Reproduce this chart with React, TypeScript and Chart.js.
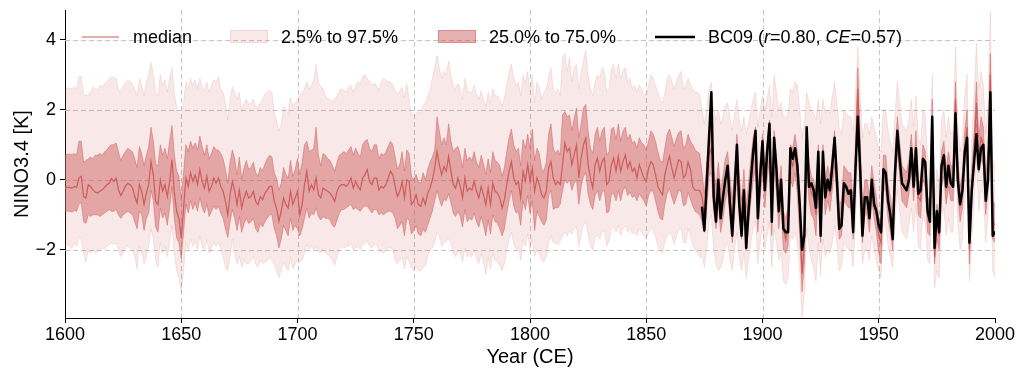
import React, { useEffect, useRef } from "react";
import { Chart, registerables } from "chart.js";

Chart.register(...registerables);

// ---------------- data ----------------
const START_YEAR = 1600;
const END_YEAR = 2000;
const BC09_START = 1874;
const X_MIN = 1600;
const X_MAX = 2000;
const X_STEP = 50;
const Y_MIN = -3.95;
const Y_MAX = 4.85;
const Y_TICKS = [-2, 0, 2, 4];

const MEDIAN = [
  -0.22,-0.22,-0.22,-0.24,-0.19,-0.22,0.05,0.10,-0.48,-0.52,
  -0.14,-0.19,-0.29,-0.35,-0.38,-0.33,-0.29,-0.22,-0.14,-0.10,
  0.03,-0.05,0.05,-0.29,-0.45,-0.33,-0.19,-0.10,-0.14,-0.22,
  -0.48,-0.67,-0.14,-0.33,-0.71,-0.38,-0.14,0.52,0.14,-0.62,
  -0.71,0.00,-0.33,-0.14,-0.48,-0.05,0.57,-0.33,-0.90,-1.10,
  -1.67,-0.81,0.05,-0.19,0.19,-0.05,0.14,-0.14,0.29,-0.05,
  -0.24,0.10,-0.33,-0.19,0.05,-0.10,0.05,-0.19,-0.33,-0.62,
  -1.00,-0.43,-0.05,-0.33,-0.71,-0.29,-0.81,-0.52,-0.33,-0.52,
  -0.48,-0.33,-0.62,-0.71,-0.48,-0.57,-0.38,-0.29,-0.19,-0.19,
  -0.62,-0.81,-1.19,-0.90,-0.52,-0.71,-0.81,-0.33,-0.71,-0.52,
  -0.33,-1.00,-0.71,-0.14,0.24,-0.33,-0.14,-0.29,0.05,-0.43,
  -0.52,-0.24,-0.29,-0.33,-0.38,-0.48,-0.62,-0.33,-0.19,-0.14,
  -0.14,-0.19,-0.10,0.05,-0.24,-0.05,-0.19,-0.29,0.05,0.14,
  0.29,-0.05,-0.14,0.05,0.05,-0.29,-0.19,-0.24,-0.14,0.05,
  0.24,0.14,-0.19,-0.48,-0.33,-0.05,-0.52,0.00,-0.05,-0.71,
  -0.62,-0.43,-0.71,-0.76,-0.52,-0.71,-0.38,-0.24,0.00,0.33,
  0.81,0.43,0.14,0.38,0.24,0.67,0.24,-0.14,-0.24,0.05,
  -0.19,-0.52,0.05,-0.33,-0.24,-0.29,-0.05,-0.33,-0.52,-0.19,
  -0.43,-0.71,-0.24,-0.71,-0.10,-0.33,-0.38,-0.52,-0.81,-0.57,
  -0.14,0.24,0.52,0.05,-0.14,-0.05,-0.52,0.24,-0.05,0.43,
  -0.05,0.33,-0.33,0.05,-0.14,-0.43,-0.52,-0.33,0.33,0.52,
  0.05,-0.14,-0.05,-0.14,0.43,1.05,0.81,0.90,0.43,0.71,
  1.00,0.05,0.62,1.00,1.19,0.43,0.05,-0.24,0.43,0.62,
  0.24,0.52,0.62,-0.14,-0.05,0.43,0.62,0.24,0.67,0.24,
  0.52,0.71,0.33,0.52,0.24,0.33,0.05,0.43,0.24,0.05,
  -0.05,0.33,0.52,0.43,0.14,-0.19,-0.33,-0.43,0.14,0.43,
  0.67,0.33,0.05,0.33,0.57,0.52,0.05,0.14,0.50,0.30,
  -0.20,-0.30,-0.30,-0.30,-0.50,-1.00,-0.20,0.70,0.90,-0.30,
  -0.80,-0.10,-0.90,-0.50,0.00,0.30,-0.50,-1.20,-0.30,0.70,
  -0.50,-1.20,-0.30,-1.40,-0.70,0.00,0.60,1.00,-0.90,0.10,
  0.80,-0.20,0.60,1.30,-1.00,1.00,0.20,-0.80,-0.10,-1.40,
  -1.70,-1.30,0.60,0.40,0.80,0.20,-0.90,-2.70,-1.80,1.10,
  0.00,-0.40,-0.50,-1.00,0.50,-1.30,0.50,-0.50,-0.10,-0.40,
  0.20,1.00,0.00,-1.20,-1.10,-0.10,-0.20,-0.30,-0.30,-1.20,
  0.60,2.60,0.70,-1.30,-0.50,-0.50,-1.00,-0.10,-0.60,-1.00,
  -1.60,-1.80,0.20,0.20,-0.60,-1.00,-1.50,0.30,1.30,0.60,
  -0.10,-0.20,-0.30,0.10,0.80,-0.10,0.90,-0.50,-0.60,0.50,
  0.30,-1.00,-1.10,1.80,-2.20,-1.20,-1.60,0.30,0.60,-0.20,
  0.30,-0.10,-0.10,2.30,0.10,-0.70,-0.30,0.90,1.50,-2.00,
  -0.20,0.80,2.20,0.70,1.20,1.00,-0.50,0.30,3.00,-1.20,
  -1.30,
];

const Q75 = [
  0.73,0.73,0.73,0.72,0.75,0.70,1.10,1.10,0.50,0.55,
  0.60,0.65,0.60,0.70,0.70,0.75,0.70,0.80,0.85,0.95,
  1.00,1.00,1.05,0.80,0.55,0.70,0.80,0.90,0.85,0.80,
  0.60,0.35,0.95,0.75,0.40,0.70,0.95,1.50,1.10,0.45,
  0.40,1.00,0.70,0.90,0.60,1.10,1.55,0.75,0.25,0.10,
  -0.60,0.20,1.00,0.80,1.10,0.90,1.05,0.85,1.25,0.95,
  0.70,1.00,0.60,0.75,0.95,0.85,0.85,0.75,0.60,0.30,
  -0.10,0.50,0.85,0.60,0.15,0.65,0.00,0.35,0.55,0.30,
  0.35,0.50,0.20,0.10,0.35,0.25,0.45,0.60,0.70,0.65,
  0.20,0.05,-0.30,-0.10,0.35,0.15,0.05,0.55,0.10,0.30,
  0.60,0.15,0.50,1.00,1.10,0.80,0.85,0.90,1.50,0.70,
  0.40,0.75,0.70,0.60,0.55,0.40,0.25,0.50,0.70,0.75,
  0.80,0.75,0.85,0.95,0.70,0.90,0.75,0.65,1.00,1.10,
  1.15,0.90,0.80,1.00,1.00,0.60,0.75,0.70,0.80,0.95,
  1.10,1.00,0.65,0.30,0.45,0.80,0.25,0.85,0.75,0.10,
  0.00,0.15,-0.05,-0.10,0.20,0.00,0.30,0.50,0.65,0.85,
  1.80,1.40,1.00,1.20,1.00,1.60,1.10,0.80,0.90,0.95,
  0.70,0.35,0.90,0.55,0.65,0.55,0.80,0.50,0.35,0.70,
  0.45,0.15,0.60,0.20,0.80,0.55,0.50,0.40,0.10,0.35,
  0.80,1.20,1.45,1.00,0.80,0.90,0.40,1.15,0.90,1.30,
  0.90,1.45,0.55,0.90,0.75,0.30,0.25,0.50,1.30,1.60,
  0.90,0.75,0.85,0.70,1.85,1.95,1.80,1.85,1.40,1.75,
  2.05,1.20,1.60,2.05,2.15,1.40,0.90,0.75,1.30,1.50,
  1.10,1.40,1.50,0.70,0.80,1.45,1.50,1.15,1.60,1.10,
  1.40,1.50,1.15,1.30,1.05,1.10,0.90,1.20,1.05,1.00,
  0.85,1.10,1.40,1.30,1.10,0.80,0.55,0.50,0.90,1.30,
  1.45,1.20,0.95,1.20,1.35,1.40,0.90,1.00,1.30,1.10,
  1.00,0.85,0.80,0.75,0.20,-0.40,0.40,1.30,1.50,0.30,
  -0.20,0.50,-0.30,0.10,0.60,0.80,0.10,-0.60,0.30,1.30,
  0.10,-0.60,0.30,-0.80,-0.10,0.60,1.20,1.50,-0.30,0.60,
  1.30,0.40,1.10,1.70,-0.50,1.40,0.70,-0.30,0.40,-0.90,
  -1.10,-0.80,1.00,0.90,1.30,0.80,-0.30,-1.90,-1.20,1.50,
  0.50,0.10,0.00,-0.40,1.00,-0.70,1.00,0.00,0.40,0.10,
  0.70,1.40,0.50,-0.70,-0.60,0.40,0.30,0.20,0.20,-0.70,
  1.10,3.20,1.20,-0.80,0.00,0.00,-0.50,0.40,-0.10,-0.50,
  -1.10,-1.20,0.70,0.70,-0.10,-0.50,-1.00,0.80,1.80,1.10,
  0.40,0.30,0.20,0.60,1.30,0.40,1.40,0.00,-0.10,1.00,
  0.80,-0.50,-0.60,2.30,-1.70,-0.70,-1.10,0.80,1.10,0.30,
  0.80,0.40,0.40,2.80,0.60,-0.20,0.20,1.40,2.00,-1.50,
  0.30,1.30,2.80,1.20,1.80,1.50,0.00,0.90,3.60,-0.60,
  -0.70,
];

const Q25 = [
  -0.90,-0.90,-0.90,-0.92,-0.88,-0.90,-0.70,-0.65,-1.20,-1.25,
  -1.00,-1.05,-1.00,-1.00,-1.00,-1.05,-1.00,-0.95,-0.90,-0.85,
  -0.90,-0.90,-0.85,-1.00,-1.10,-1.00,-0.95,-0.90,-0.95,-1.00,
  -1.20,-1.40,-0.90,-1.00,-1.45,-1.10,-0.95,-0.30,-0.60,-1.35,
  -1.50,-0.80,-1.10,-0.95,-1.30,-0.80,-0.20,-1.10,-1.65,-1.80,
  -2.25,-1.50,-0.70,-0.95,-0.60,-0.85,-0.65,-0.90,-0.50,-0.80,
  -0.95,-0.70,-1.05,-0.90,-0.75,-0.85,-0.75,-0.95,-1.10,-1.40,
  -1.65,-1.20,-0.85,-1.10,-1.45,-1.05,-1.50,-1.25,-1.10,-1.25,
  -1.20,-1.10,-1.40,-1.50,-1.25,-1.35,-1.20,-1.10,-1.00,-1.00,
  -1.40,-1.60,-1.95,-1.70,-1.30,-1.45,-1.60,-1.10,-1.45,-1.30,
  -1.40,-1.60,-1.40,-1.10,-0.80,-1.10,-0.95,-1.00,-0.80,-1.05,
  -1.15,-1.05,-1.10,-1.10,-1.15,-1.30,-1.35,-1.15,-0.95,-0.85,
  -0.85,-0.80,-0.75,-0.70,-0.85,-0.80,-0.85,-0.90,-0.80,-0.75,
  -0.75,-0.85,-0.95,-0.85,-0.85,-1.00,-0.95,-1.00,-0.95,-0.90,
  -0.90,-0.95,-1.10,-1.40,-1.30,-1.20,-1.60,-1.10,-1.15,-1.55,
  -1.45,-1.30,-1.55,-1.60,-1.40,-1.50,-1.30,-1.10,-0.90,-0.60,
  -0.30,-0.55,-0.75,-0.55,-0.60,-0.40,-0.65,-0.95,-1.05,-0.90,
  -1.05,-1.35,-0.85,-1.20,-1.10,-1.15,-0.95,-1.20,-1.35,-1.05,
  -1.30,-1.60,-1.15,-1.55,-1.00,-1.20,-1.25,-1.40,-1.60,-1.40,
  -0.95,-0.60,-0.30,-0.75,-0.95,-0.90,-1.30,-0.60,-0.85,-0.45,
  -0.95,-0.60,-1.45,-0.90,-1.05,-1.20,-1.30,-1.15,-0.45,-0.30,
  -0.85,-0.80,-0.80,-0.70,-0.30,0.00,-0.10,0.00,-0.30,-0.10,
  0.00,-0.70,-0.20,0.10,0.20,-0.40,-0.70,-0.85,-0.45,-0.30,
  -0.60,-0.35,-0.30,-0.95,-0.90,-0.40,-0.40,-0.60,-0.30,-0.60,
  -0.30,-0.20,-0.45,-0.35,-0.50,-0.45,-0.60,-0.40,-0.50,-0.60,
  -0.75,-0.45,-0.30,-0.35,-0.60,-0.90,-1.10,-1.15,-0.70,-0.40,
  -0.25,-0.50,-0.70,-0.50,-0.30,-0.35,-0.75,-0.70,-0.35,-0.55,
  -0.75,-0.90,-0.95,-1.00,-1.20,-1.50,-0.80,0.10,0.20,-0.90,
  -1.40,-0.70,-1.50,-1.10,-0.60,-0.30,-1.10,-1.80,-0.90,0.10,
  -1.10,-1.70,-0.90,-2.00,-1.30,-0.60,0.00,0.30,-1.50,-0.50,
  0.20,-0.80,0.00,0.60,-1.60,0.30,-0.40,-1.40,-0.70,-2.00,
  -2.10,-1.90,0.00,-0.20,0.20,-0.40,-1.60,-3.20,-2.40,0.50,
  -0.60,-1.00,-1.10,-1.60,-0.10,-1.80,-0.10,-1.00,-0.60,-0.90,
  -0.30,0.40,-0.50,-1.70,-1.60,-0.60,-0.70,-0.80,-0.80,-1.70,
  0.10,2.00,0.10,-1.80,-1.00,-1.00,-1.50,-0.60,-1.10,-1.50,
  -2.10,-2.40,-0.30,-0.30,-1.10,-1.50,-2.00,-0.20,0.80,0.10,
  -0.60,-0.70,-0.80,-0.40,0.30,-0.60,0.40,-1.00,-1.10,0.00,
  -0.20,-1.50,-1.60,1.30,-2.40,-1.70,-2.00,-0.20,0.10,-0.70,
  -0.20,-0.60,-0.60,1.70,-0.40,-1.20,-0.80,0.40,1.00,-2.40,
  -0.70,0.30,1.60,0.20,0.60,0.40,-1.00,-0.30,2.30,-1.70,
  -1.80,
];

const P975 = [
  2.62,2.62,2.62,2.60,2.65,2.60,2.95,2.95,2.45,2.40,
  2.45,2.50,2.65,2.60,2.55,2.70,2.65,2.75,2.80,2.90,
  2.95,2.90,2.90,2.60,2.50,2.70,2.75,2.85,2.80,2.75,
  2.60,2.40,2.90,2.70,2.40,2.80,3.00,3.35,3.00,2.50,
  2.40,3.00,2.70,2.85,2.50,2.90,3.20,2.50,2.10,1.90,
  1.85,2.20,2.80,2.60,2.90,2.70,2.85,2.60,2.90,2.65,
  2.55,2.80,2.50,2.70,2.85,2.80,2.95,2.60,2.50,2.20,
  1.70,2.30,2.65,2.50,2.30,2.50,1.95,2.20,2.30,2.15,
  2.20,2.30,2.10,2.05,2.20,2.30,2.45,2.50,2.55,2.50,
  1.90,1.70,1.40,1.60,2.10,2.00,1.90,2.35,2.10,2.20,
  2.30,2.40,2.50,2.60,2.80,2.60,2.70,2.85,3.30,2.80,
  2.65,2.60,2.40,2.30,2.30,2.25,2.30,2.40,2.55,2.60,
  2.55,2.50,2.65,2.70,2.50,2.70,2.80,2.75,2.95,3.00,
  2.90,2.80,2.70,2.75,2.70,2.55,2.80,2.90,2.85,2.80,
  2.80,2.70,2.55,2.45,2.55,2.65,2.35,2.75,2.30,1.90,
  1.85,1.90,1.95,1.90,2.10,2.20,2.40,2.55,2.90,3.20,
  3.55,3.20,2.90,3.10,3.00,3.40,3.00,2.70,2.60,2.75,
  2.60,2.30,2.90,2.60,2.50,2.50,2.70,2.45,2.30,2.55,
  2.30,2.10,2.50,2.20,2.60,2.40,2.40,2.30,2.10,2.35,
  2.70,3.10,3.30,2.90,2.70,2.80,2.40,3.00,2.75,3.10,
  2.50,3.00,2.20,2.80,2.60,2.30,2.50,2.60,2.90,3.20,
  2.60,2.50,2.60,2.40,3.50,3.60,3.10,3.50,2.80,3.20,
  3.30,2.60,3.10,3.40,3.70,3.00,2.60,2.40,2.80,3.00,
  2.90,3.20,3.10,2.50,2.60,3.20,3.30,2.90,3.30,2.90,
  3.10,3.20,2.80,2.90,2.60,2.70,2.50,2.70,2.60,2.45,
  2.40,2.70,3.00,2.90,2.70,2.50,2.30,2.20,2.50,2.90,
  3.00,2.80,2.60,2.80,3.00,3.10,2.60,2.70,2.90,2.70,
  2.60,2.50,2.50,2.45,2.00,1.60,2.00,2.60,2.80,2.00,
  1.70,2.00,1.60,1.80,2.10,2.20,1.80,1.40,1.90,2.30,
  1.70,1.40,1.80,1.30,1.60,2.00,2.30,2.50,1.50,2.00,
  2.40,2.00,2.30,2.70,1.80,3.00,2.50,2.00,2.20,1.80,
  1.80,1.90,2.60,2.50,2.80,2.70,2.00,1.20,1.60,2.50,
  2.20,2.00,1.90,1.70,2.30,1.60,2.30,1.90,2.00,1.90,
  2.40,2.80,2.20,1.50,1.30,2.00,1.90,1.80,1.80,1.40,
  2.50,3.80,2.50,1.20,1.60,1.60,1.30,1.80,1.50,1.20,
  0.90,0.80,2.00,2.00,1.40,1.10,0.80,1.90,2.80,2.20,
  1.60,1.50,1.40,1.70,2.30,1.50,2.40,1.20,1.00,2.00,
  1.80,0.60,0.50,3.00,-0.90,0.30,-0.20,1.70,2.00,1.20,
  1.80,1.30,1.40,3.80,1.60,0.80,1.20,2.40,3.00,-0.80,
  1.20,2.40,3.90,2.60,3.10,2.70,1.30,2.20,4.80,0.60,
  0.40,
];

const P025 = [
  -1.90,-1.85,-1.90,-1.95,-1.80,-1.90,-1.60,-1.70,-2.10,-2.35,
  -2.00,-2.10,-2.00,-2.10,-2.05,-2.00,-1.95,-2.00,-1.90,-1.85,
  -1.80,-1.85,-1.80,-2.00,-2.20,-2.10,-1.95,-1.90,-1.95,-2.00,
  -2.20,-2.55,-1.90,-2.10,-2.40,-2.20,-1.90,-1.40,-1.70,-2.30,
  -2.50,-1.80,-2.10,-1.90,-2.20,-1.80,-1.30,-2.10,-2.60,-2.80,
  -3.20,-2.60,-1.80,-2.00,-1.70,-1.90,-1.75,-2.00,-1.60,-1.90,
  -2.00,-1.70,-2.10,-1.95,-1.80,-1.90,-1.80,-2.00,-2.20,-2.50,
  -2.60,-2.20,-1.70,-2.10,-2.40,-2.20,-2.50,-2.30,-2.40,-2.40,
  -2.30,-2.20,-2.40,-2.50,-2.30,-2.40,-2.35,-2.30,-2.20,-2.30,
  -2.40,-2.60,-2.80,-2.60,-2.35,-2.50,-2.60,-2.20,-2.55,-2.40,
  -2.30,-2.35,-2.30,-2.10,-1.85,-2.00,-1.90,-2.00,-1.90,-2.05,
  -2.10,-2.00,-2.10,-2.15,-2.20,-2.30,-2.45,-2.20,-2.00,-1.90,
  -1.95,-1.90,-1.90,-1.85,-2.00,-1.95,-1.90,-2.00,-1.85,-1.80,
  -1.75,-1.90,-1.95,-1.85,-1.85,-2.00,-2.05,-2.10,-2.00,-1.95,
  -1.95,-2.00,-2.30,-2.40,-2.30,-2.25,-2.55,-2.20,-2.35,-2.50,
  -2.60,-2.50,-2.60,-2.60,-2.50,-2.45,-2.20,-2.00,-1.95,-1.80,
  -1.50,-1.60,-1.90,-1.80,-1.75,-1.70,-1.80,-2.10,-2.20,-2.05,
  -2.10,-2.35,-1.95,-2.20,-2.15,-2.20,-2.00,-2.25,-2.40,-2.10,
  -2.35,-2.70,-2.20,-2.55,-2.10,-2.30,-2.35,-2.45,-2.60,-2.40,
  -2.00,-1.70,-1.50,-1.85,-2.00,-1.95,-2.30,-1.70,-1.90,-1.55,
  -2.00,-1.70,-2.20,-2.00,-2.10,-2.30,-2.35,-2.20,-1.80,-1.60,
  -1.80,-1.80,-1.85,-1.75,-1.60,-1.50,-1.60,-1.45,-1.55,-1.40,
  -1.35,-1.90,-1.55,-1.30,-1.20,-1.60,-1.90,-2.00,-1.65,-1.60,
  -1.70,-1.50,-1.45,-1.90,-1.75,-1.40,-1.35,-1.50,-1.30,-1.60,
  -1.40,-1.30,-1.50,-1.40,-1.55,-1.50,-1.60,-1.40,-1.50,-1.60,
  -1.70,-1.50,-1.40,-1.45,-1.65,-1.90,-2.00,-2.10,-1.80,-1.60,
  -1.50,-1.60,-1.85,-1.60,-1.45,-1.40,-1.80,-1.80,-1.40,-1.60,
  -1.90,-2.00,-2.10,-2.20,-2.20,-2.50,-2.00,-1.20,-1.00,-2.00,
  -2.40,-2.60,-2.50,-2.30,-1.90,-1.80,-2.30,-2.60,-2.00,-1.50,
  -2.20,-2.60,-2.10,-2.80,-2.30,-1.80,-1.40,-1.20,-2.40,-1.80,
  -1.30,-2.00,-1.60,-1.20,-2.50,-1.40,-1.80,-2.30,-2.10,-2.90,
  -3.00,-2.80,-1.60,-1.70,-1.50,-1.80,-2.60,-3.95,-3.30,-1.40,
  -1.90,-2.30,-2.50,-2.90,-1.80,-2.70,-1.70,-2.20,-2.00,-2.10,
  -1.80,-1.30,-1.80,-2.60,-2.50,-1.80,-1.90,-2.00,-2.00,-2.50,
  -1.20,0.60,-1.10,-2.40,-2.00,-2.00,-2.30,-1.60,-2.00,-2.30,
  -2.60,-2.80,-1.30,-1.30,-1.90,-2.20,-2.50,-1.20,-0.30,-0.90,
  -1.50,-1.60,-1.70,-1.30,-0.80,-1.50,-0.70,-1.90,-2.00,-1.00,
  -1.20,-2.30,-2.40,0.40,-3.10,-2.60,-2.80,-1.10,-0.80,-1.60,
  -1.10,-1.50,-1.50,0.90,-1.30,-2.00,-1.70,-0.60,0.00,-2.90,
  -1.70,-0.60,0.60,-0.90,-0.30,-0.40,-1.80,-1.10,1.30,-2.60,
  -2.80,
];

// BC09 instrumental-based index, 1874-2000
const BC09 = [
  -0.80,-1.45,-0.10,1.20,2.50,-0.50,
  -1.20,0.00,-1.10,-0.50,0.00,0.40,-0.70,-1.60,-0.30,1.00,
  -0.70,-1.60,-0.30,-1.95,-0.90,0.00,0.80,1.40,-1.10,0.10,
  1.10,-0.30,0.80,1.60,-1.20,1.20,0.30,-0.90,0.00,-1.40,
  -1.50,-1.50,0.90,0.60,0.90,0.40,-0.70,-2.00,-1.60,1.50,
  -0.20,-0.10,-0.30,-0.80,0.80,-1.60,0.80,-0.50,0.00,-0.30,
  0.40,1.20,0.00,-1.40,-1.30,-0.10,-0.20,-0.40,-0.30,-1.50,
  0.30,1.80,0.30,-1.60,-0.50,-0.50,-1.10,0.00,-0.70,-0.90,
  -1.30,-1.50,0.30,0.20,-0.60,-1.00,-1.70,0.20,1.40,0.60,
  -0.10,-0.20,-0.30,0.00,0.90,-0.20,0.90,-0.40,-0.30,0.60,
  0.50,-0.90,-1.20,1.80,-1.95,-0.90,-1.50,0.40,0.70,-0.20,
  0.40,-0.10,-0.20,1.90,0.00,-0.70,-0.30,0.80,1.20,-1.80,
  -0.30,0.50,1.30,0.30,0.90,1.00,-0.60,0.00,2.50,-1.60,
  -1.50,
];

const LEGEND_LABELS = ["median", "2.5% to 97.5%", "25.0% to 75.0%"];
const BC09_LABEL_PARTS: [string, boolean][] = [
  ["BC09 (", false],
  ["r", true],
  ["=0.80, ", false],
  ["CE", true],
  ["=0.57)", false],
];

// ---------------- styling ----------------
const FONT = "'Liberation Sans', Arial, Helvetica, sans-serif";
const RED = "rgb(205, 92, 92)";
const OUTER_FILL = "rgba(205, 92, 92, 0.14)";
const INNER_FILL = "rgba(205, 92, 92, 0.48)";
const GRID_COLOR = "rgba(190, 190, 190, 0.9)";

const YEARS = Array.from({ length: END_YEAR - START_YEAR + 1 }, (_, i) => START_YEAR + i);
const toPoints = (vals: number[], start: number) =>
  vals.map((v, i) => ({ x: start + i, y: v }));

const gridPlugin = {
  id: "dashedGrid",
  beforeDatasetsDraw(chart: any) {
    const { ctx, chartArea: a, scales } = chart;
    const xs = scales.x;
    const ys = scales.y;
    ctx.save();
    ctx.beginPath();
    ctx.rect(a.left, a.top, a.right - a.left, a.bottom - a.top);
    ctx.clip();
    ctx.strokeStyle = GRID_COLOR;
    ctx.lineWidth = 1;
    ctx.setLineDash([5, 3]);
    xs.ticks.forEach((t: any) => {
      const px = Math.round(xs.getPixelForValue(t.value)) + 0.5;
      if (px < a.left + 2) return;
      ctx.beginPath();
      ctx.moveTo(px, a.top);
      ctx.lineTo(px, a.bottom);
      ctx.stroke();
    });
    ys.ticks.forEach((t: any) => {
      const py = Math.round(ys.getPixelForValue(t.value)) + 0.5;
      ctx.beginPath();
      ctx.moveTo(a.left, py);
      ctx.lineTo(a.right, py);
      ctx.stroke();
    });
    ctx.restore();
  },
};

const legendPlugin = {
  id: "customLegend",
  afterDraw(chart: any) {
    const { ctx, chartArea: a } = chart;
    const L = a.left;
    const lineY = a.top + 27;
    const baseY = a.top + 33;
    const patchTop = a.top + 20;
    const patchH = 13;
    ctx.save();
    ctx.font = `18px ${FONT}`;
    ctx.textBaseline = "alphabetic";
    // median
    ctx.strokeStyle = RED;
    ctx.lineWidth = 1.2;
    ctx.beginPath();
    ctx.moveTo(L + 17, lineY);
    ctx.lineTo(L + 54, lineY);
    ctx.stroke();
    ctx.fillStyle = "#000";
    ctx.fillText(LEGEND_LABELS[0], L + 68, baseY);
    // outer band
    ctx.fillStyle = OUTER_FILL;
    ctx.fillRect(L + 165, patchTop, 38, patchH);
    ctx.strokeStyle = OUTER_FILL;
    ctx.lineWidth = 1;
    ctx.strokeRect(L + 165.5, patchTop + 0.5, 37, patchH - 1);
    ctx.fillStyle = "#000";
    ctx.fillText(LEGEND_LABELS[1], L + 216, baseY);
    // inner band
    ctx.fillStyle = INNER_FILL;
    ctx.fillRect(L + 373, patchTop, 38, patchH);
    ctx.strokeStyle = INNER_FILL;
    ctx.strokeRect(L + 373.5, patchTop + 0.5, 37, patchH - 1);
    ctx.fillStyle = "#000";
    ctx.fillText(LEGEND_LABELS[2], L + 424, baseY);
    // BC09
    ctx.strokeStyle = "#000";
    ctx.lineWidth = 2.5;
    ctx.beginPath();
    ctx.moveTo(L + 590, lineY);
    ctx.lineTo(L + 630, lineY);
    ctx.stroke();
    let tx = L + 643;
    BC09_LABEL_PARTS.forEach(([txt, italic]) => {
      ctx.font = `${italic ? "italic " : ""}18px ${FONT}`;
      ctx.fillStyle = "#000";
      ctx.fillText(txt, tx, baseY);
      tx += ctx.measureText(txt).width;
    });
    ctx.restore();
  },
};

export default function App() {
  const ref = useRef<HTMLCanvasElement | null>(null);

  useEffect(() => {
    const canvas = ref.current;
    if (!canvas) return;
    Chart.defaults.font.family = FONT;

    const datasets: any[] = [
      {
        label: "97.5%",
        data: toPoints(P975, START_YEAR),
        borderColor: OUTER_FILL,
        backgroundColor: OUTER_FILL,
        borderWidth: 1,
        pointRadius: 0,
        fill: "+1",
        order: 6,
      },
      {
        label: "2.5%",
        data: toPoints(P025, START_YEAR),
        borderColor: OUTER_FILL,
        backgroundColor: OUTER_FILL,
        borderWidth: 1,
        pointRadius: 0,
        fill: false,
        order: 5,
      },
      {
        label: "75%",
        data: toPoints(Q75, START_YEAR),
        borderColor: INNER_FILL,
        backgroundColor: INNER_FILL,
        borderWidth: 1,
        pointRadius: 0,
        fill: "+1",
        order: 4,
      },
      {
        label: "25%",
        data: toPoints(Q25, START_YEAR),
        borderColor: INNER_FILL,
        backgroundColor: INNER_FILL,
        borderWidth: 1,
        pointRadius: 0,
        fill: false,
        order: 3,
      },
      {
        label: "median",
        data: toPoints(MEDIAN, START_YEAR),
        borderColor: RED,
        borderWidth: 1.2,
        pointRadius: 0,
        fill: false,
        order: 2,
      },
      {
        label: "BC09",
        data: toPoints(BC09, BC09_START),
        borderColor: "#000",
        borderWidth: 2.5,
        borderJoinStyle: "round",
        borderCapStyle: "round",
        pointRadius: 0,
        fill: false,
        order: 1,
      },
    ];

    const chart = new Chart(canvas, {
      type: "line",
      data: { labels: YEARS, datasets },
      options: {
        animation: false,
        responsive: false,
        devicePixelRatio: 1,
        events: [],
        layout: { padding: { left: 0, right: 30, top: 10, bottom: 0 } },
        elements: { line: { tension: 0 } },
        plugins: {
          legend: { display: false },
          tooltip: { enabled: false },
          filler: { propagate: false },
        },
        scales: {
          x: {
            type: "linear",
            min: X_MIN,
            max: X_MAX,
            afterFit: (s: any) => {
              s.height = 62;
              s.paddingLeft = 0;
              s.paddingRight = 0;
            },
            ticks: {
              stepSize: X_STEP,
              autoSkip: false,
              maxRotation: 0,
              color: "#000",
              padding: 1,
              font: { size: 18, family: FONT },
              callback: (v: any) => String(v),
            },
            grid: {
              drawOnChartArea: false,
              drawTicks: true,
              tickLength: 5,
              tickColor: "#000",
              tickWidth: 1,
              color: "rgba(0,0,0,0)",
              lineWidth: 1,
            },
            border: { display: true, color: "#000", width: 1 },
            title: {
              display: true,
              text: "Year (CE)",
              color: "#000",
              font: { size: 20, family: FONT },
              padding: { top: 0, bottom: 11 },
            },
          },
          y: {
            type: "linear",
            min: Y_MIN,
            max: Y_MAX,
            afterFit: (s: any) => {
              s.width = 65;
              s.paddingTop = 0;
              s.paddingBottom = 0;
            },
            afterBuildTicks: (s: any) => {
              s.ticks = Y_TICKS.map((v) => ({ value: v }));
            },
            ticks: {
              color: "#000",
              padding: 4,
              font: { size: 18, family: FONT },
              callback: (v: any) => (Number(v) < 0 ? "\u2212" + Math.abs(Number(v)) : String(v)),
            },
            grid: {
              drawOnChartArea: false,
              drawTicks: true,
              tickLength: 5,
              tickColor: "#000",
              tickWidth: 1,
              color: "rgba(0,0,0,0)",
              lineWidth: 1,
            },
            border: { display: true, color: "#000", width: 1 },
            title: {
              display: true,
              text: "NINO3.4 [K]",
              color: "#000",
              font: { size: 20, family: FONT },
              padding: { top: 10, bottom: 0 },
            },
          },
        },
      },
      plugins: [gridPlugin, legendPlugin],
    } as any);

    return () => chart.destroy();
  }, []);

  return (
    <div
      style={{
        position: "fixed",
        left: 0,
        top: 0,
        width: 1025,
        height: 380,
        background: "#fff",
      }}
    >
      <canvas ref={ref} width={1025} height={380} style={{ display: "block", width: 1025, height: 380 }} />
    </div>
  );
}
